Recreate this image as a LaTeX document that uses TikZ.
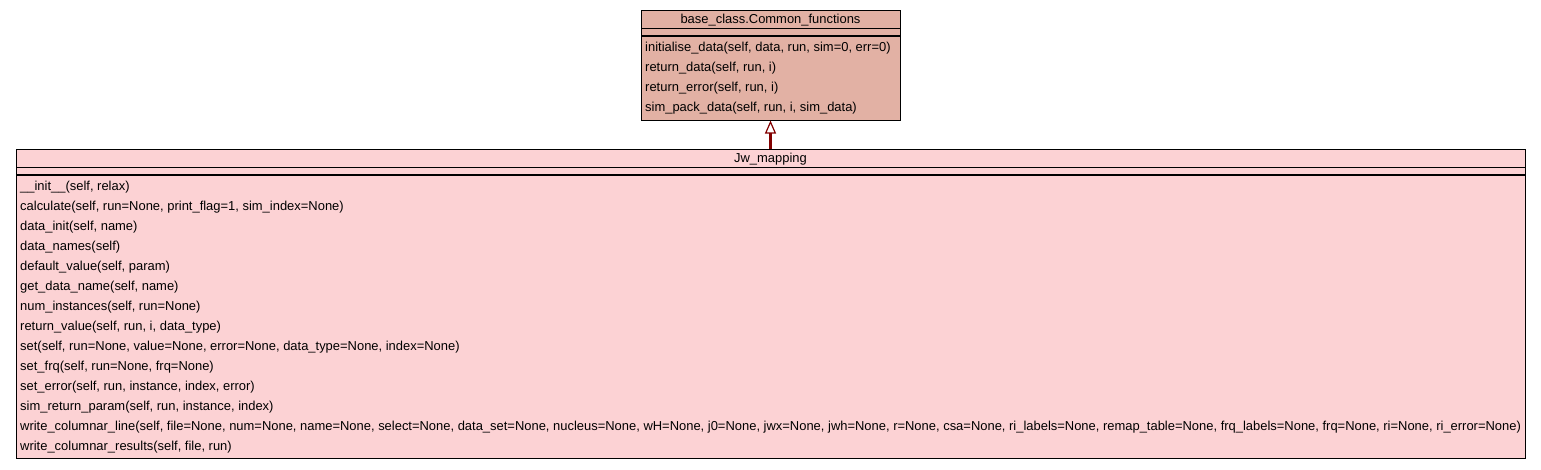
\documentclass[tikz,border=0pt]{standalone}
\usepackage{fontspec}
\setmainfont{Liberation Sans}
\usetikzlibrary{arrows.meta}

\definecolor{basefill}{RGB}{226,177,164}
\definecolor{jwfill}{RGB}{252,210,212}
\definecolor{inheritred}{RGB}{130,0,0}

\tikzset{
  classbox/.style={draw=black, line width=1pt, inner sep=0pt},
  classname/.style={inner sep=0pt, font=\fontsize{12.95}{15}\selectfont},
  method/.style={anchor=west, inner sep=0pt, font=\fontsize{12.95}{15}\selectfont},
  sepline/.style={line width=1.6pt},
  inherit/.style={draw=inheritred, line width=2.2pt,
    -{Triangle[open, length=13pt, width=11pt, line width=1.2pt, fill=white]}}
}

\begin{document}
\begin{tikzpicture}[x=1pt, y=-1pt]
    \useasboundingbox[fill=white] (0,0) rectangle (1541,469);

    % Parent class
    \node[classbox, fill=basefill, minimum width=259pt, minimum height=110pt] (base) at (770.5,65) {};
    \node[classname] (basename) at (770.5,20) {base\_class.Common\_functions};
    \draw[sepline] (641,28.5) -- (900,28.5);
    \draw[sepline] (641,36) -- (900,36);
    \foreach \m [count=\i] in {
        {initialise\_data(self, data, run, sim=0, err=0)},
        {return\_data(self, run, i)},
        {return\_error(self, run, i)},
        {sim\_pack\_data(self, run, i, sim\_data)}}
        \node[method] (basem\i) at (645,28.5+20*\i) {\m};

    % Child class
    \node[classbox, fill=jwfill, minimum width=1509pt, minimum height=309pt] (jw) at (770.5,303.5) {};
    \node[classname] (jwname) at (770.5,159) {Jw\_mapping};
    \draw[sepline] (16,167.3) -- (1525,167.3);
    \draw[sepline] (16,175) -- (1525,175);
    \foreach \m [count=\i] in {
        {\_\_init\_\_(self, relax)},
        {calculate(self, run=None, print\_flag=1, sim\_index=None)},
        {data\_init(self, name)},
        {data\_names(self)},
        {default\_value(self, param)},
        {get\_data\_name(self, name)},
        {num\_instances(self, run=None)},
        {return\_value(self, run, i, data\_type)},
        {set(self, run=None, value=None, error=None, data\_type=None, index=None)},
        {set\_frq(self, run=None, frq=None)},
        {set\_error(self, run, instance, index, error)},
        {sim\_return\_param(self, run, instance, index)},
        {write\_columnar\_line(self, file=None, num=None, name=None, select=None, data\_set=None, nucleus=None, wH=None, j0=None, jwx=None, jwh=None, r=None, csa=None, ri\_labels=None, remap\_table=None, frq\_labels=None, frq=None, ri=None, ri\_error=None)},
        {write\_columnar\_results(self, file, run)}}
        \node[method] (jwm\i) at (20,167.5+20*\i) {\m};

    % Inheritance
    \draw[inherit] (jw.north) -- (base.south);
\end{tikzpicture}
\end{document}
